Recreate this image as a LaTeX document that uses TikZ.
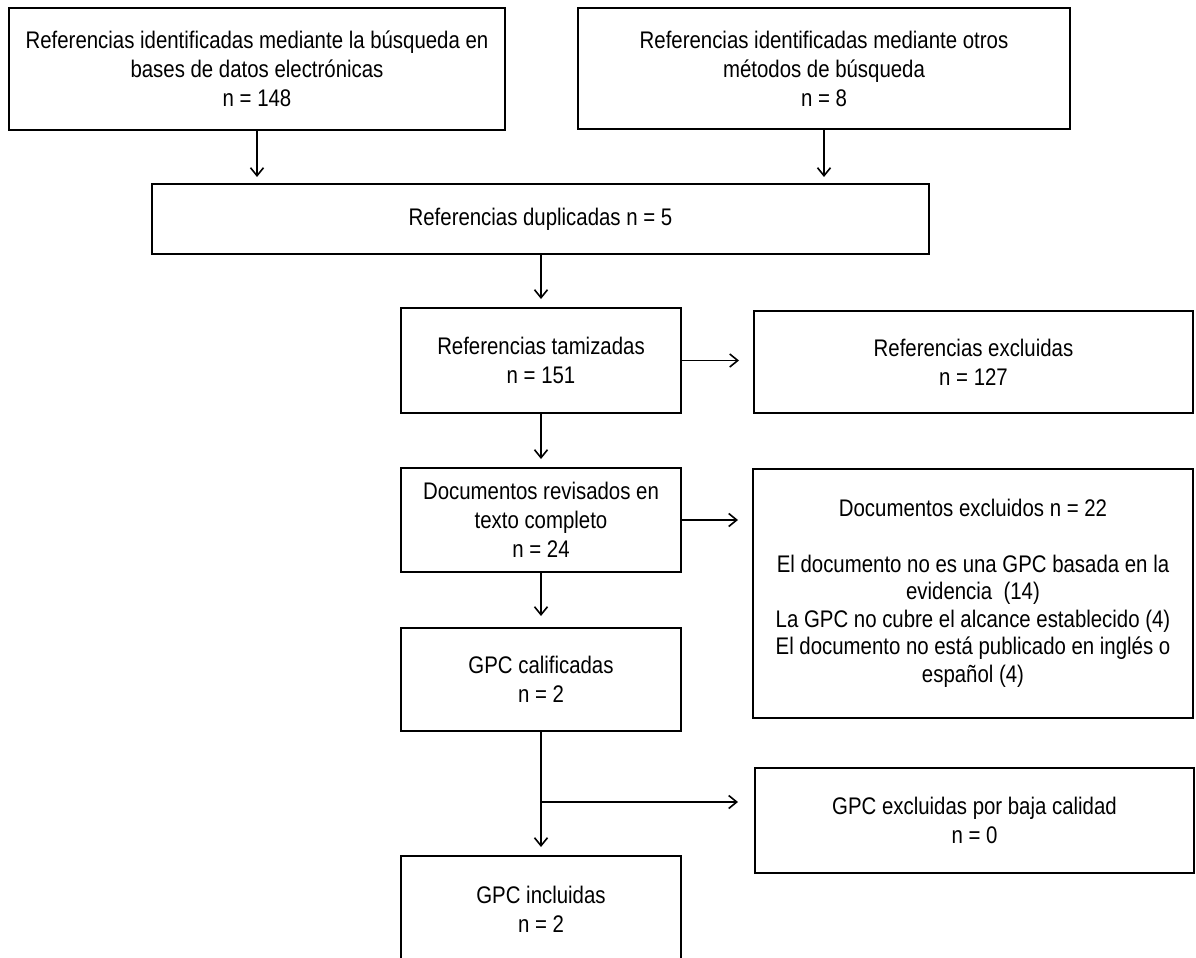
\documentclass[tikz,border=0pt]{standalone}
\usepackage{fontspec}
\setmainfont{Liberation Sans}[FakeStretch=0.85]
\usetikzlibrary{arrows.meta}
\begin{document}
\begin{tikzpicture}[x=0.5pt,y=-0.5pt,
  box/.style={draw=black, line width=1pt, align=center, inner sep=0pt,
    font=\fontsize{12}{14.5}\selectfont, text=black},
  arr/.style={line width=0.8pt, -{Straight Barb[length=4pt,width=6.5pt]}}]
\clip (0,0) rectangle (1196,958);
\fill[white] (0,0) rectangle (1196,958);
% boxes
\node[box, minimum width=248pt, minimum height=61pt] (b1) at (257,69)
  {Referencias identificadas mediante la búsqueda en\\bases de datos electrónicas\\n = 148};
\node[box, minimum width=246pt, minimum height=60.5pt] (b2) at (824,68.5)
  {Referencias identificadas mediante otros\\métodos de búsqueda\\n = 8};
\node[box, minimum width=388.5pt, minimum height=35pt] (b3) at (540.5,219)
  {Referencias duplicadas n = 5};
\node[box, minimum width=140pt, minimum height=52.5pt] (b4) at (541,360.5)
  {Referencias tamizadas\\n = 151};
\node[box, minimum width=219.5pt, minimum height=51pt] (b5) at (973.5,362)
  {Referencias excluidas\\n = 127};
\node[box, minimum width=140pt, minimum height=52pt] (b6) at (541,520)
  {Documentos revisados en\\texto completo\\n = 24};
\node[box, minimum width=220pt, minimum height=124.5pt,
      font=\fontsize{12}{13.8}\selectfont] (b7) at (973,593.5)
  {Documentos excluidos n = 22\\[13.8pt]El documento no es una GPC basada en la\\evidencia\ \ (14)\\La GPC no cubre el alcance establecido (4)\\El documento no está publicado en inglés o\\español (4)};
\node[box, minimum width=140pt, minimum height=51.5pt] (b8) at (541,679.5)
  {GPC calificadas\\n = 2};
\node[box, minimum width=219.5pt, minimum height=52.5pt] (b9) at (974.5,820.5)
  {GPC excluidas por baja calidad\\n = 0};
\node[box, minimum width=140pt, minimum height=53pt] (b10) at (541,909)
  {GPC incluidas\\n = 2};
% connectors
\draw[arr, shorten >=3pt] (b1.south) -- (b1.south |- b3.north);
\draw[arr, shorten >=3pt] (b2.south) -- (b2.south |- b3.north);
\draw[arr, shorten >=4pt] (b3.south -| b4.north) -- (b4.north);
\draw[arr, shorten >=7pt] (b4.east) -- (b4.east -| b5.west);
\draw[arr, shorten >=4pt] (b4.south) -- (b6.north);
\draw[arr, shorten >=7pt] (b6.east) -- (b6.east -| b7.west);
\draw[arr, shorten >=5.5pt] (b6.south) -- (b8.north);
\draw[arr, shorten >=4pt] (b8.south) -- (b10.north);
\coordinate (br) at (541,802);
\draw[arr, shorten >=8pt] (br) -- (br -| b9.west);
\end{tikzpicture}
\end{document}
